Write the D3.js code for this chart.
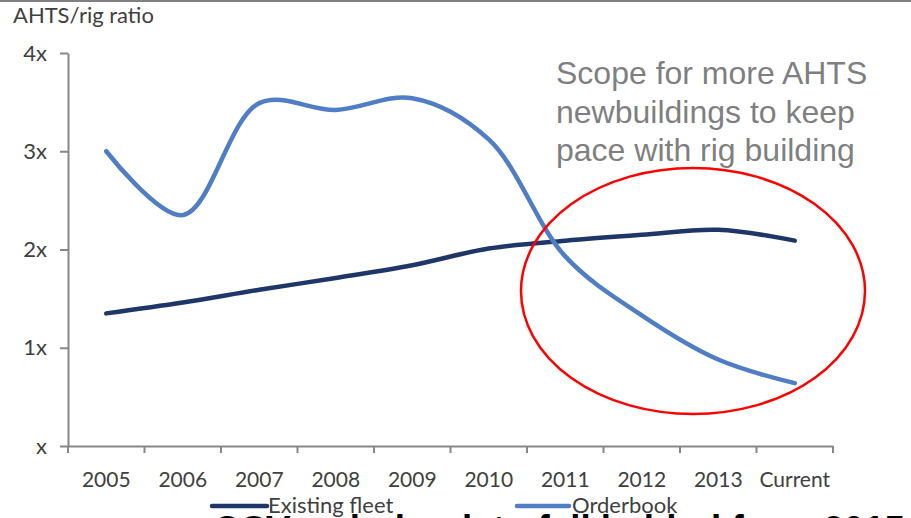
<!DOCTYPE html>
<html>
<head>
<meta charset="utf-8">
<script src="https://cdn.jsdelivr.net/npm/d3@7"></script>
<style>
  html, body { margin: 0; padding: 0; background: #fff; overflow: hidden; }
  svg { display: block; }
</style>
</head>
<body>
<svg id="chart" width="911" height="518"></svg>
<script>
// AHTS-to-rig ratio, existing fleet vs. orderbook
const categories = ["2005", "2006", "2007", "2008", "2009", "2010", "2011", "2012", "2013", "Current"];
const existingFleet = [1.35, 1.46, 1.59, 1.71, 1.84, 2.01, 2.09, 2.15, 2.20, 2.09];
const orderbook = [3.00, 2.35, 3.49, 3.42, 3.54, 3.12, 1.93, 1.33, 0.88, 0.64];
const yTicks = [0, 1, 2, 3, 4];
const yTickLabels = ["x", "1x", "2x", "3x", "4x"];
const seriesNames = ["Existing fleet", "Orderbook"];
const seriesColors = ["#1f3768", "#4f7ec6"];
const axisTitle = "AHTS/rig ratio";
const noteLines = ["Scope for more AHTS", "newbuildings to keep", "pace with rig building"];
const footerText = "OSV orderbook to fall behind from 2015";

const svg = d3.select("#chart");
const W = 911, H = 518;
const plot = { left: 68, right: 833, top: 53, bottom: 446 };
const labelFont = "Lato, 'Open Sans', sans-serif";
const axisColor = "#878787";
const textColor = "#404040";

// top rule
svg.append("rect").attr("x", 0).attr("y", 0).attr("width", W).attr("height", 2).attr("fill", "#808080");

const x = d3.scaleBand().domain(categories).range([plot.left, plot.right]).padding(0);
const y = d3.scaleLinear().domain([0, 4]).range([plot.bottom, plot.top]);
const cx = c => x(c) + x.bandwidth() / 2;

// y axis
const yAxis = svg.append("g")
  .attr("transform", `translate(${plot.left},0)`)
  .call(d3.axisLeft(y).tickValues(yTicks).tickFormat((d, i) => yTickLabels[i]).tickSize(8).tickPadding(13).tickSizeOuter(0));
yAxis.select(".domain").attr("stroke", axisColor).attr("stroke-width", 2);
yAxis.selectAll(".tick line").attr("stroke", axisColor).attr("stroke-width", 2);
yAxis.selectAll(".tick text").attr("fill", textColor).style("font-family", labelFont).style("font-size", "22px");

// x axis: labels centred in bands, ticks on band edges
const xAxis = svg.append("g")
  .attr("transform", `translate(0,${plot.bottom})`)
  .call(d3.axisBottom(x).tickSize(0).tickPadding(26).tickSizeOuter(0));
xAxis.select(".domain").attr("stroke", axisColor).attr("stroke-width", 2);
xAxis.selectAll(".tick text").attr("fill", textColor).style("font-family", labelFont).style("font-size", "21px");
const edges = categories.map(c => x(c)).concat([x(categories[categories.length - 1]) + x.bandwidth()]);
xAxis.selectAll("line.edge").data(edges).enter().append("line")
  .attr("class", "edge")
  .attr("x1", d => d).attr("x2", d => d)
  .attr("y1", 0).attr("y2", 7)
  .attr("stroke", axisColor).attr("stroke-width", 2);

// axis title
svg.append("text").attr("x", 13).attr("y", 23)
  .attr("fill", textColor).style("font-family", labelFont).style("font-size", "22px")
  .text(axisTitle);

// series lines
const line = d3.line()
  .x((d, i) => cx(categories[i]))
  .y(d => y(d))
  .curve(d3.curveCatmullRom.alpha(0.5));

[existingFleet, orderbook].forEach((vals, k) => {
  svg.append("path")
    .datum(vals)
    .attr("d", line)
    .attr("fill", "none")
    .attr("stroke", seriesColors[k])
    .attr("stroke-width", 4.5)
    .attr("stroke-linecap", "round")
    .attr("stroke-linejoin", "round");
});

// highlighted region
svg.append("ellipse")
  .attr("cx", 693).attr("cy", 291).attr("rx", 172).attr("ry", 123)
  .attr("fill", "none").attr("stroke", "#ff0000").attr("stroke-width", 2.5);

// annotation
const note = svg.append("text")
  .attr("fill", "#7f7f7f")
  .style("font-family", "'Liberation Sans', Arial, sans-serif")
  .style("font-size", "32px");
noteLines.forEach((t, i) => {
  note.append("tspan").attr("x", 556).attr("y", 84 + i * 38.5).text(t);
});

// footer heading (mostly below the visible area)
svg.append("text")
  .attr("x", 213).attr("y", 544)
  .attr("textLength", 692).attr("lengthAdjust", "spacingAndGlyphs")
  .attr("fill", "#000")
  .style("font-family", "'Liberation Sans', Arial, sans-serif")
  .style("font-weight", "bold").style("font-size", "40px")
  .text(footerText);

// legend
const legendPos = [{ x1: 212, x2: 267, y: 506, tx: 268 }, { x1: 517, x2: 569, y: 506, tx: 572 }];
seriesNames.forEach((name, k) => {
  const p = legendPos[k];
  svg.append("line")
    .attr("x1", p.x1).attr("x2", p.x2).attr("y1", p.y).attr("y2", p.y)
    .attr("stroke", seriesColors[k]).attr("stroke-width", 4.5).attr("stroke-linecap", "round");
  svg.append("text")
    .attr("x", p.tx).attr("y", 513)
    .attr("fill", textColor).style("font-family", labelFont).style("font-size", "22px")
    .text(name);
});
</script>
</body>
</html>
